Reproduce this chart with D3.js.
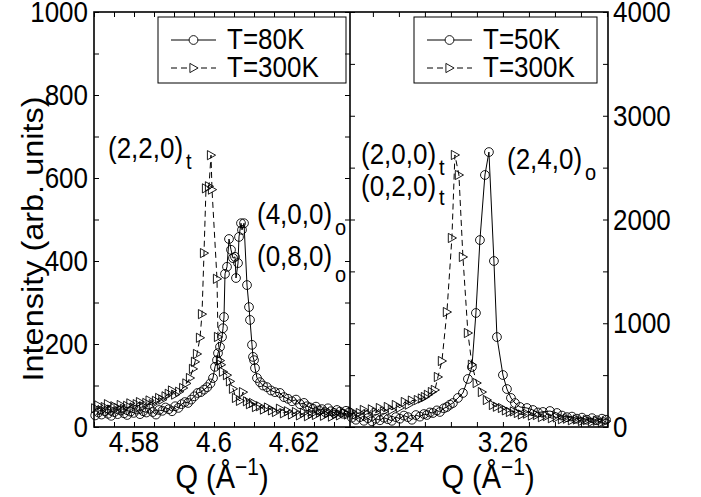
<!DOCTYPE html>
<html><head><meta charset="utf-8">
<script src="https://cdn.jsdelivr.net/npm/d3@7"></script>
<style>body{margin:0;background:#fff}svg text{font-family:"Liberation Sans",Arial,Helvetica,sans-serif;fill:#000}</style>
</head><body><svg id="c" width="701" height="497"></svg>
<script>
// ---- data (Q in 1/Angstrom, intensity in arb. units) ----
const left80K = [[4.5703,28],[4.5711,35],[4.5719,30],[4.5727,38],[4.5735,32],[4.5743,27],[4.5751,36],[4.5759,31],[4.5767,40],[4.5775,33],[4.5783,29],[4.5791,37],[4.5799,34],[4.5807,42],[4.5815,31],[4.5823,38],[4.5831,35],[4.5839,44],[4.5847,36],[4.5855,30],[4.5863,41],[4.5871,39],[4.5879,47],[4.5887,43],[4.5895,38],[4.5903,50],[4.5911,46],[4.5919,55],[4.5927,60],[4.5935,58],[4.5943,66],[4.5951,74],[4.5959,82],[4.5967,84],[4.5975,90],[4.5983,96],[4.5991,105],[4.59975,118],[4.60025,145],[4.60075,161],[4.601,178],[4.6015,193],[4.602,217],[4.60225,238],[4.6025,265],[4.60275,369],[4.60325,386],[4.60375,453],[4.60425,427],[4.60475,407],[4.60525,410],[4.6055,359],[4.606,395],[4.60625,458],[4.60675,491],[4.607,475],[4.6075,491],[4.60825,342],[4.60875,289],[4.609,258],[4.6095,198],[4.60975,169],[4.61,161],[4.61025,142],[4.61075,118],[4.6115,108],[4.61225,100],[4.61325,96],[4.61425,88],[4.61525,84],[4.6165,82],[4.6175,72],[4.6185,68],[4.6195,62],[4.6205,66],[4.6215,55],[4.6225,58],[4.62325,50],[4.624,47],[4.62475,44],[4.6255,49],[4.62625,40],[4.627,43],[4.62775,36],[4.6285,45],[4.62925,38],[4.63,34],[4.63075,41],[4.6315,37],[4.63225,32],[4.633,39],[4.63375,35]];
const left300K = [[4.5703,45],[4.5711,52],[4.5719,40],[4.5727,48],[4.5735,55],[4.5743,42],[4.5751,50],[4.5759,46],[4.5767,53],[4.5775,44],[4.5783,51],[4.5791,57],[4.5799,47],[4.5807,55],[4.5815,60],[4.5823,50],[4.5831,58],[4.5839,64],[4.5847,55],[4.5855,63],[4.5863,70],[4.5871,66],[4.5879,74],[4.5887,80],[4.5895,88],[4.5903,78],[4.5913,85],[4.5923,94],[4.5931,105],[4.594,118],[4.59475,140],[4.59525,157],[4.59575,176],[4.5965,215],[4.597,272],[4.5975,419],[4.598,575],[4.59875,580],[4.59925,655],[4.5995,572],[4.60075,357],[4.601,217],[4.6015,160],[4.60175,150],[4.60225,133],[4.60325,125],[4.604,110],[4.60475,92],[4.6055,70],[4.6065,63],[4.60725,84],[4.60825,62],[4.609,55],[4.60975,58],[4.6105,48],[4.6115,50],[4.6125,42],[4.6135,47],[4.6145,40],[4.6155,36],[4.6165,44],[4.6175,33],[4.6185,38],[4.6195,30],[4.6205,36],[4.6215,28],[4.6225,34],[4.6235,26],[4.6245,32],[4.6255,29],[4.6265,35],[4.6275,27],[4.6285,33],[4.6295,25],[4.6305,31],[4.6315,28],[4.6325,34],[4.6335,30]];
const right50K = [[3.23096,90],[3.23173,70],[3.2325,95],[3.23327,60],[3.23404,85],[3.23481,55],[3.23558,80],[3.23635,65],[3.23712,90],[3.23788,75],[3.23865,60],[3.23942,95],[3.24019,80],[3.24096,110],[3.24173,95],[3.2425,70],[3.24327,115],[3.24404,100],[3.24481,125],[3.24538,116],[3.24596,140],[3.24654,135],[3.24731,160],[3.24788,145],[3.24865,180],[3.24923,193],[3.2498,215],[3.25038,231],[3.25135,280],[3.25231,328],[3.25327,463],[3.25404,578],[3.25481,1099],[3.25558,1802],[3.25654,2429],[3.25731,2650],[3.25827,1600],[3.25885,867],[3.26,501],[3.26077,366],[3.26154,280],[3.26231,231],[3.26327,193],[3.26462,183],[3.26577,164],[3.26673,140],[3.26769,145],[3.26904,154],[3.27038,135],[3.27135,110],[3.27231,95],[3.27327,100],[3.27423,80],[3.2752,90],[3.27615,70],[3.27712,85],[3.27808,65],[3.27904,80],[3.27981,70]];
const right300K = [[3.23096,150],[3.23173,120],[3.2325,135],[3.23327,165],[3.23404,125],[3.23481,170],[3.23558,140],[3.23635,183],[3.23712,150],[3.23788,193],[3.23865,165],[3.23942,212],[3.24019,185],[3.24115,241],[3.24192,215],[3.2425,255],[3.24365,260],[3.24442,275],[3.245,289],[3.24558,310],[3.24635,337],[3.24692,357],[3.2475,482],[3.24827,636],[3.24923,1108],[3.25019,1822],[3.25077,2622],[3.25154,2429],[3.25231,1639],[3.25327,906],[3.25404,600],[3.25496,424],[3.25596,337],[3.25692,260],[3.25808,212],[3.25885,195],[3.25981,183],[3.26058,160],[3.26135,145],[3.26212,150],[3.26288,135],[3.26365,120],[3.26462,128],[3.26558,110],[3.26654,115],[3.2675,95],[3.26846,105],[3.26942,85],[3.27038,92],[3.27135,75],[3.27231,80],[3.27327,65],[3.27423,72],[3.2752,58],[3.27615,66],[3.27712,50],[3.27808,60],[3.27904,45],[3.27981,55]];

const xTicksLeft = [4.57,4.575,4.58,4.585,4.59,4.595,4.6,4.605,4.61,4.615,4.62,4.625,4.63];
const xLabelsLeft = [4.58,4.6,4.62];
const xTicksRight = [3.235,3.24,3.245,3.25,3.255,3.26,3.265,3.27,3.275,3.28];
const xLabelsRight = [3.24,3.26];
const yTicksLeft = [0,100,200,300,400,500,600,700,800,900,1000];
const yLabelsLeft = [0,200,400,600,800,1000];
const yTicksRight = [0,500,1000,1500,2000,2500,3000,3500,4000];
const yLabelsRight = [0,1000,2000,3000,4000];
const legendLeft = ["T=80K","T=300K"];
const legendRight = ["T=50K","T=300K"];

// ---- layout ----
const svg = d3.select("#c");
const yTop = 12, yBot = 427, xL0 = 94, xMid = 350, xR1 = 608;
const SY = 1.12; // vertical stretch of glyphs in the reference
const xL = d3.scaleLinear().domain([4.57,4.634]).range([xL0,xMid]);
const xR = d3.scaleLinear().domain([3.2306,3.2802]).range([xMid,xR1]);
const yL = d3.scaleLinear().domain([0,1000]).range([yBot,yTop]);
const yR = d3.scaleLinear().domain([0,4000]).range([yBot,yTop]);

function fmt(v){ return String(+v.toFixed(3)); }
function txt(x,y,s,size,anchor,rot){
  const t = svg.append("text").attr("font-size",size).attr("text-anchor",anchor||"start")
    .attr("transform", rot ? `translate(${x},${y}) rotate(-90) scale(${SY},1)` : `translate(${x},${y}) scale(1,${SY})`);
  if (typeof s === "string") t.text(s);
  return t;
}

const tri = "M-3.6,-4.6L4.6,0L-3.6,4.6Z";
function series(data, xs, ys, dashed, marker){
  const line = d3.line().x(d=>xs(d[0])).y(d=>ys(d[1]));
  svg.append("path").datum(data).attr("d",line).attr("fill","none").attr("stroke","#000")
     .attr("stroke-width",1).attr("stroke-dasharray",dashed?"6,4":null);
  const g = svg.append("g");
  if (marker==="o"){
    g.selectAll("circle").data(data).join("circle").attr("cx",d=>xs(d[0])).attr("cy",d=>ys(d[1]))
     .attr("r",4.4).attr("fill","none").attr("stroke","#000").attr("stroke-width",0.9);
  } else {
    g.selectAll("path").data(data).join("path").attr("d",tri)
     .attr("transform",d=>`translate(${xs(d[0])},${ys(d[1])})`)
     .attr("fill","none").attr("stroke","#000").attr("stroke-width",0.9);
  }
}
series(left300K, xL, yL, true, "t");
series(left80K, xL, yL, false, "o");
series(right300K, xR, yR, true, "t");
series(right50K, xR, yR, false, "o");

// ---- legends ----
function legend(x0,x1,names){
  svg.append("rect").attr("x",x0).attr("y",17).attr("width",x1-x0).attr("height",66)
     .attr("fill","#fff").attr("stroke","#000").attr("stroke-width",1);
  const rows=[40,68];
  names.forEach((n,i)=>{
    const y=rows[i], lx0=x0+13, lx1=x0+58, mx=(lx0+lx1)/2;
    svg.append("line").attr("x1",lx0).attr("x2",lx1).attr("y1",y).attr("y2",y).attr("stroke","#000")
      .attr("stroke-width",1).attr("stroke-dasharray",i? "6,4":null);
    if(i===0) svg.append("circle").attr("cx",mx).attr("cy",y).attr("r",4.4).attr("fill","#fff").attr("stroke","#000").attr("stroke-width",0.9);
    else svg.append("path").attr("d",tri).attr("transform",`translate(${mx},${y})`).attr("fill","#fff").attr("stroke","#000").attr("stroke-width",0.9);
    txt(x0+69,y+9,n,26,"start");
  });
}
legend(158,346,legendLeft);
legend(414,597,legendRight);

// ---- annotations ----
function label(x,y,main,sub,subdy){
  const t = txt(x,y,null,26,"start");
  t.append("tspan").text(main);
  t.append("tspan").attr("font-size",20).attr("dx",3).attr("dy",subdy||10).text(sub);
}
label(108,158,"(2,2,0)","t");
label(257,224,"(4,0,0)","o");
label(257,266,"(0,8,0)","o",14);
label(361,164,"(2,0,0)","t");
label(361,196,"(0,2,0)","t",8);
label(507,169,"(2,4,0)","o");

// ---- axes ----
const tk = 5;
function xAxis(scale, ticks){
  const gb = svg.append("g").attr("transform",`translate(0,${yBot})`)
    .call(d3.axisBottom(scale).tickValues(ticks).tickSize(-tk).tickFormat(""));
  const gt = svg.append("g").attr("transform",`translate(0,${yTop})`)
    .call(d3.axisTop(scale).tickValues(ticks).tickSize(-tk).tickFormat(""));
  [gb,gt].forEach(g=>{g.select(".domain").remove(); g.selectAll("line").attr("stroke","#000").attr("stroke-width",1);});
}
function yAxis(scale, ticks, x, side){
  const ax = side==="left" ? d3.axisLeft(scale) : d3.axisRight(scale);
  const g = svg.append("g").attr("transform",`translate(${x},0)`)
    .call(ax.tickValues(ticks).tickSize(-tk).tickFormat(""));
  g.select(".domain").remove(); g.selectAll("line").attr("stroke","#000").attr("stroke-width",1);
}
xAxis(xL, xTicksLeft); xAxis(xR, xTicksRight);
yAxis(yL, yTicksLeft, xL0, "left"); yAxis(yL, yTicksLeft, xMid, "right");
yAxis(yR, yTicksRight, xMid, "left"); yAxis(yR, yTicksRight, xR1, "right");

svg.append("rect").attr("x",xL0).attr("y",yTop).attr("width",xR1-xL0).attr("height",yBot-yTop)
   .attr("fill","none").attr("stroke","#000").attr("stroke-width",1.6);
svg.append("line").attr("x1",xMid).attr("x2",xMid).attr("y1",yTop).attr("y2",yBot).attr("stroke","#000").attr("stroke-width",1.6);

// tick labels
xLabelsLeft.forEach(v=>txt(xL(v),452,fmt(v),26,"middle"));
xLabelsRight.forEach(v=>txt(xR(v),452,fmt(v),26,"middle"));
yLabelsLeft.forEach(v=>txt(88,yL(v)+10,fmt(v),26,"end"));
yLabelsRight.forEach(v=>txt(613,yR(v)+10,fmt(v),26,"start"));

// axis titles
function qTitle(cx){
  const t = txt(cx,488,null,29,"middle");
  t.append("tspan").text("Q (Å");
  t.append("tspan").attr("font-size",21).attr("dy",-12).text("−1");
  t.append("tspan").attr("dy",12).text(")");
}
qTitle(222); qTitle(488);
txt(43,239,"Intensity (arb. units)",29,"middle",true);
</script></body></html>
